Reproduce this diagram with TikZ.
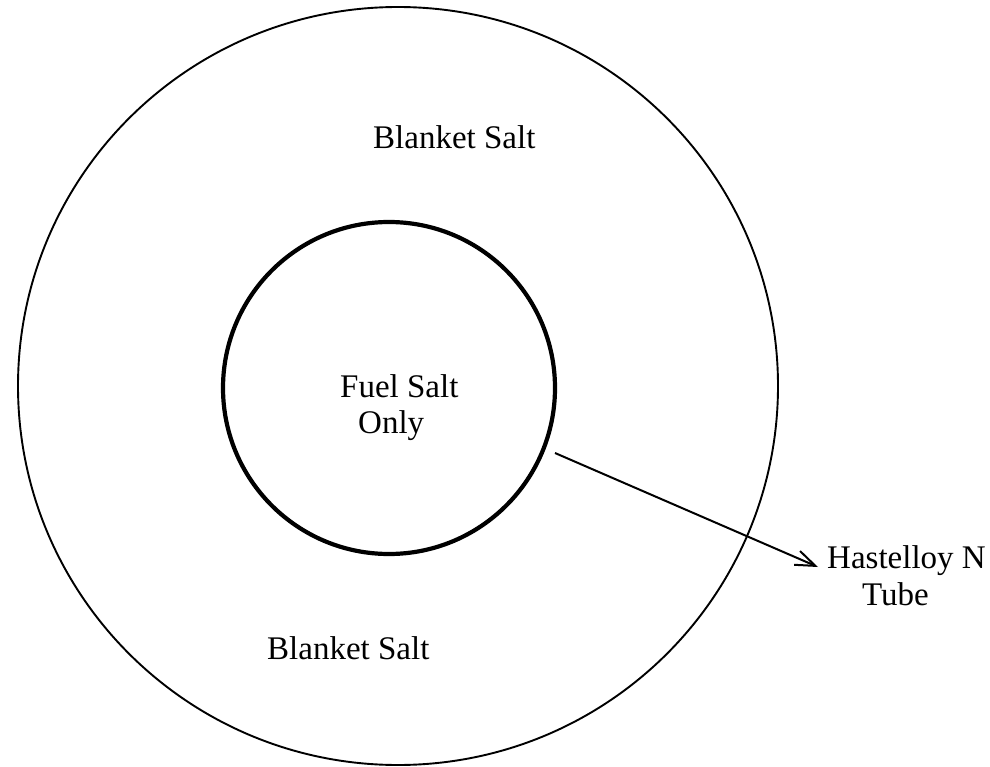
\documentclass[tikz,border=0pt]{standalone}
\usepackage{fontspec}
\setmainfont{Liberation Serif}
\usetikzlibrary{arrows.meta}
\begin{document}
\begin{tikzpicture}[x=1pt,y=-1pt,
  lbl/.style={font=\fontsize{33}{36}\selectfont, inner sep=0pt, anchor=base west},
  tube/.style={draw, line width=4.2pt},
  shell/.style={draw, line width=1.9pt},
  pointer/.style={line width=2pt, -{Straight Barb[length=20pt,width=15pt,line width=2pt]}}]
\useasboundingbox (0,0) rectangle (990,767);
\draw[shell] (398,386) ellipse [x radius=380, y radius=379];
\draw[tube] (389,388) circle [radius=166];
\node[lbl] (blanketTop) at (373,149) {Blanket Salt};
\node[lbl] (blanketBot) at (267,659) {Blanket Salt};
\node[lbl] (fuel1) at (340,397) {Fuel Salt};
\node[lbl] (fuel2) at (358,433) {Only};
\node[lbl] (hast) at (827,568) {Hastelloy N};
\node[lbl] (tubeTxt) at (862,605) {Tube};
\coordinate (arrStart) at (555,453);
\coordinate (arrEnd) at (818,567);
\draw[pointer] (arrStart) -- (arrEnd);
\end{tikzpicture}
\end{document}
